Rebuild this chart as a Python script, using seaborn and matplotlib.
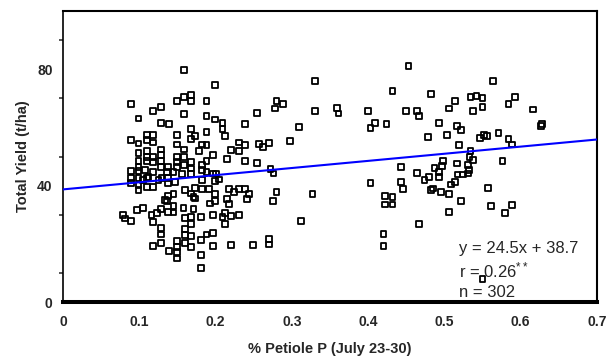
import matplotlib
matplotlib.use("Agg")
import matplotlib.pyplot as plt
from matplotlib.ticker import MultipleLocator, FixedLocator, FuncFormatter
import numpy as np
import pandas as pd
import seaborn as sns

# % petiole P (July 23-30) and total yield (t/ha) for each sampled field
petiole_p = [
    0.159, 0.089, 0.149, 0.159, 0.168, 0.168, 0.188, 0.128, 0.118, 0.099,
    0.128, 0.139, 0.159, 0.188, 0.199, 0.199, 0.089, 0.099, 0.110, 0.118,
    0.110, 0.118, 0.149, 0.168, 0.173, 0.168, 0.188, 0.182, 0.178, 0.099,
    0.110, 0.110, 0.118, 0.110, 0.118, 0.128, 0.128, 0.128, 0.128, 0.149,
    0.159, 0.159, 0.159, 0.168, 0.168, 0.149, 0.149, 0.149, 0.188, 0.182,
    0.197, 0.099, 0.099, 0.089, 0.099, 0.107, 0.118, 0.138, 0.136, 0.145,
    0.156, 0.168, 0.182, 0.188, 0.197, 0.089, 0.099, 0.110, 0.129, 0.138,
    0.188, 0.201, 0.099, 0.099, 0.105, 0.110, 0.118, 0.112, 0.125, 0.138,
    0.147, 0.160, 0.173, 0.182, 0.191, 0.168, 0.171, 0.173, 0.145, 0.138,
    0.136, 0.134, 0.145, 0.128, 0.138, 0.145, 0.123, 0.116, 0.118, 0.097,
    0.105, 0.079, 0.081, 0.089, 0.158, 0.171, 0.160, 0.168, 0.181, 0.168,
    0.193, 0.197, 0.128, 0.128, 0.128, 0.118, 0.160, 0.160, 0.168, 0.160,
    0.168, 0.149, 0.149, 0.149, 0.149, 0.139, 0.181, 0.188, 0.197, 0.197,
    0.181, 0.181, 0.089, 0.330, 0.280, 0.288, 0.278, 0.330, 0.359, 0.361,
    0.254, 0.209, 0.209, 0.212, 0.239, 0.309, 0.231, 0.239, 0.257, 0.262,
    0.270, 0.298, 0.220, 0.231, 0.215, 0.239, 0.254, 0.272, 0.276, 0.199,
    0.204, 0.218, 0.224, 0.231, 0.239, 0.244, 0.241, 0.199, 0.199, 0.215,
    0.218, 0.280, 0.275, 0.327, 0.209, 0.212, 0.220, 0.231, 0.212, 0.312,
    0.220, 0.249, 0.270, 0.270, 0.453, 0.432, 0.482, 0.400, 0.450, 0.464,
    0.467, 0.514, 0.506, 0.403, 0.409, 0.424, 0.493, 0.516, 0.522, 0.478,
    0.503, 0.519, 0.443, 0.464, 0.487, 0.498, 0.497, 0.493, 0.493, 0.516,
    0.531, 0.524, 0.531, 0.474, 0.480, 0.403, 0.443, 0.446, 0.482, 0.485,
    0.495, 0.506, 0.509, 0.514, 0.522, 0.422, 0.432, 0.422, 0.432, 0.506,
    0.467, 0.420, 0.420, 0.517, 0.564, 0.534, 0.542, 0.550, 0.537, 0.550,
    0.584, 0.592, 0.616, 0.628, 0.627, 0.547, 0.552, 0.556, 0.571, 0.584,
    0.589, 0.534, 0.533, 0.537, 0.532, 0.576, 0.557, 0.561, 0.579, 0.589,
    0.550, 0.182,
]
total_yield = [
    79.7, 68.0, 69.1, 70.5, 71.1, 69.1, 69.1, 67.1, 65.7, 63.1,
    61.6, 61.1, 64.5, 64.0, 74.5, 62.7, 55.6, 54.5, 57.3, 57.3,
    55.6, 54.8, 57.3, 59.4, 57.0, 56.0, 58.3, 54.1, 51.8, 51.3,
    51.8, 49.9, 49.9, 48.4, 48.0, 52.4, 50.5, 48.4, 46.5, 54.1,
    52.4, 49.9, 47.0, 48.0, 45.9, 49.9, 48.2, 46.5, 48.4, 47.0,
    50.5, 48.4, 46.5, 45.0, 45.0, 45.3, 44.7, 46.5, 44.7, 44.7,
    43.9, 43.9, 45.3, 44.7, 44.2, 42.5, 42.5, 42.5, 42.5, 42.5,
    54.0, 44.2, 40.2, 38.5, 41.9, 39.6, 39.6, 43.0, 41.9, 40.8,
    41.3, 38.5, 39.2, 38.8, 38.8, 37.3, 36.2, 35.6, 37.1, 36.5,
    34.7, 35.0, 33.1, 31.9, 31.0, 30.8, 30.5, 29.9, 27.4, 31.6,
    32.2, 29.9, 28.7, 27.9, 32.4, 31.9, 28.9, 29.3, 29.3, 26.7,
    33.9, 29.9, 25.5, 23.2, 20.4, 19.2, 25.1, 23.0, 22.8, 20.4,
    19.0, 20.9, 19.0, 17.1, 15.0, 17.5, 21.3, 23.2, 23.6, 19.2,
    16.1, 11.8, 40.9, 76.0, 69.0, 68.0, 66.5, 65.7, 66.7, 64.8,
    65.0, 61.4, 59.4, 57.1, 61.1, 60.2, 54.8, 53.9, 54.4, 53.3,
    54.6, 55.3, 52.2, 51.8, 49.1, 48.4, 47.8, 45.6, 44.2, 41.5,
    42.1, 38.9, 37.9, 38.9, 38.9, 37.0, 35.4, 37.0, 34.8, 35.4,
    33.6, 37.9, 34.8, 37.2, 29.1, 30.5, 29.5, 29.9, 26.8, 27.9,
    19.6, 19.6, 21.6, 19.8, 81.0, 72.6, 71.4, 65.7, 65.7, 65.7,
    63.9, 69.1, 66.5, 59.8, 61.4, 61.1, 61.6, 60.4, 59.1, 56.8,
    57.3, 53.9, 46.5, 44.4, 46.1, 48.4, 46.7, 44.7, 43.0, 47.6,
    47.0, 43.8, 44.2, 41.9, 43.0, 41.0, 41.3, 38.8, 38.5, 39.0,
    37.9, 37.0, 40.4, 41.3, 34.8, 36.5, 36.2, 33.5, 33.5, 31.0,
    26.8, 23.3, 19.3, 43.8, 76.0, 70.5, 70.8, 70.1, 65.7, 67.1,
    68.0, 70.5, 66.2, 61.1, 60.4, 56.4, 57.3, 57.0, 58.1, 56.0,
    54.1, 51.8, 49.9, 48.7, 45.3, 48.4, 39.2, 33.0, 30.7, 33.3,
    7.9, 41.9,
]

# fitted regression reported on the chart
slope = 24.5
intercept = 38.7
r_value = "0.26"
n_obs = 302

x_ticks = [0, 0.1, 0.2, 0.3, 0.4, 0.5, 0.6, 0.7]
x_tick_labels = ["0", "0.1", "0.2", "0.3", "0.4", "0.5", "0.6", "0.7"]
y_labelled = [0, 40, 80]

sns.set_style("white")
plt.rcParams["font.family"] = ["Liberation Sans", "DejaVu Sans"]
plt.rcParams["mathtext.fontset"] = "custom"
plt.rcParams["mathtext.rm"] = "Liberation Sans"
plt.rcParams["mathtext.it"] = "Liberation Sans"

df = pd.DataFrame({"petiole": petiole_p, "yield": total_yield})

fig = plt.figure(figsize=(6.16, 3.62), dpi=100)
ax = fig.add_axes([0.1023, 0.1657, 0.8669, 0.8039])

sns.scatterplot(data=df, x="petiole", y="yield", ax=ax, marker="s", s=17,
                facecolor="none", edgecolor="black", linewidth=1.3,
                zorder=3)

fit_x = np.linspace(0, 0.7, 60)
fit_df = pd.DataFrame({"petiole": fit_x, "yield": slope * fit_x + intercept})
sns.lineplot(data=fit_df, x="petiole", y="yield", ax=ax, color="#0000ff",
             linewidth=1.5, zorder=4)

ax.set_xlim(0, 0.7)
ax.set_ylim(0, 100)

ax.set_xticks(x_ticks)
ax.set_xticklabels(x_tick_labels)
ax.yaxis.set_major_locator(MultipleLocator(20))
ax.yaxis.set_minor_locator(FixedLocator([10, 30, 50, 70, 90]))
ax.yaxis.set_major_formatter(
    FuncFormatter(lambda v, p: f"{v:.0f}" if round(v) in y_labelled else ""))

ax.tick_params(axis="x", which="major", direction="out", length=3.6,
               width=1.1, pad=6, labelsize=10)
ax.tick_params(axis="y", which="major", direction="inout", length=9,
               width=1.1, pad=3, labelsize=10)
ax.tick_params(axis="y", which="minor", direction="out", length=3.2,
               width=1.1, left=True)
for lab in ax.get_xticklabels() + ax.get_yticklabels():
    lab.set_fontweight("bold")

for side, lw in {"left": 1.2, "top": 1.5, "right": 1.5, "bottom": 2.9}.items():
    ax.spines[side].set_visible(True)
    ax.spines[side].set_linewidth(lw)
    ax.spines[side].set_color("black")

ax.set_xlabel("% Petiole P (July 23-30)", fontsize=10.5, fontweight="bold",
              labelpad=9)
ax.set_ylabel("Total Yield (t/ha)", fontsize=10.5, fontweight="bold",
              labelpad=5)

stats_x = 0.519
ax.text(stats_x, 18.5, f"y = {slope}x + {intercept}", fontsize=12,
        va="center", ha="left", zorder=5)
ax.text(stats_x, 11.0, f"r = {r_value}$^{{**}}$", fontsize=12,
        va="center", ha="left", zorder=5)
ax.text(stats_x, 3.4, f"n = {n_obs}", fontsize=12,
        va="center", ha="left", zorder=5)

fig.savefig("out.png", dpi=100)
